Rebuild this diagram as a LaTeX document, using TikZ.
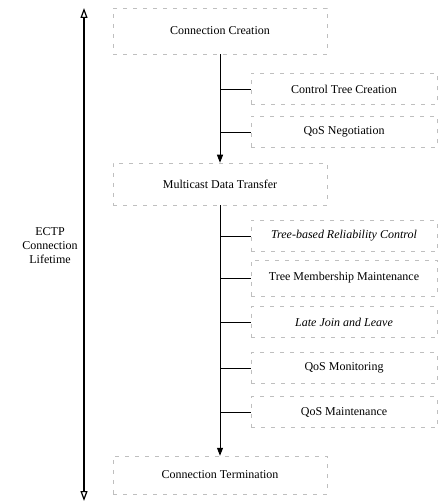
\documentclass[tikz,border=0pt]{standalone}
\usepackage{fontspec}
\setmainfont{Liberation Serif}
\usetikzlibrary{arrows.meta}
\begin{document}
\begin{tikzpicture}[x=1pt,y=-1pt,
  every node/.style={font=\fontsize{12}{14}\selectfont},
  phase/.style={draw=black!25, dash pattern=on 4pt off 6pt, line width=0.5pt,
    minimum width=214pt, inner sep=0pt},
  task/.style={draw=black!25, dash pattern=on 4pt off 6pt, line width=0.5pt,
    minimum width=186pt, minimum height=31pt, inner sep=0pt},
  flow/.style={line width=1pt, -{Triangle[length=8pt,width=6pt]}},
  branch/.style={line width=0.9pt},
  life/.style={line width=1.2pt,
    {Triangle[open,length=10pt,width=7pt,line width=1.2pt]}-{Triangle[open,length=10pt,width=7pt,line width=1.2pt]}}
]
\useasboundingbox (0,0) rectangle (446,502);

% connection lifetime axis
\coordinate (lifetop) at (84,8);
\coordinate (lifebot) at (84,501);
\draw[life] (lifetop) -- (lifebot);
\node[align=center] (lifelabel) at (50,246) {ECTP\\Connection\\Lifetime};

% phases
\node[phase, minimum height=46pt] (cc)  at (220,31)  {Connection Creation};
\node[phase, minimum height=42pt] (mdt) at (220,184) {Multicast Data Transfer};
\node[phase, minimum height=38pt] (ct)  at (220,475) {Connection Termination};

% tasks of each phase
\node[task] (ctc) at (344,89)  {Control Tree Creation};
\node[task] (qn)  at (344,132) {QoS Negotiation};
\node[task] (trc) at (344,236) {\itshape Tree-based Reliability Control};
\node[task, minimum height=36pt] (tmm) at (344,278) {Tree Membership Maintenance};
\node[task] (ljl) at (344,322) {\itshape Late Join and Leave};
\node[task] (qmo) at (344,368) {QoS Monitoring};
\node[task] (qma) at (344,412) {QoS Maintenance};

% phase flow
\draw[flow] (cc.south) -- (mdt.north);
\draw[flow] (mdt.south) -- (ct.north);

% branches to tasks
\foreach \t in {ctc,qn}
  \draw[branch] (cc.south |- \t.west) -- (\t.west);
\foreach \t in {trc,tmm,ljl,qmo,qma}
  \draw[branch] (mdt.south |- \t.west) -- (\t.west);
\end{tikzpicture}
\end{document}
